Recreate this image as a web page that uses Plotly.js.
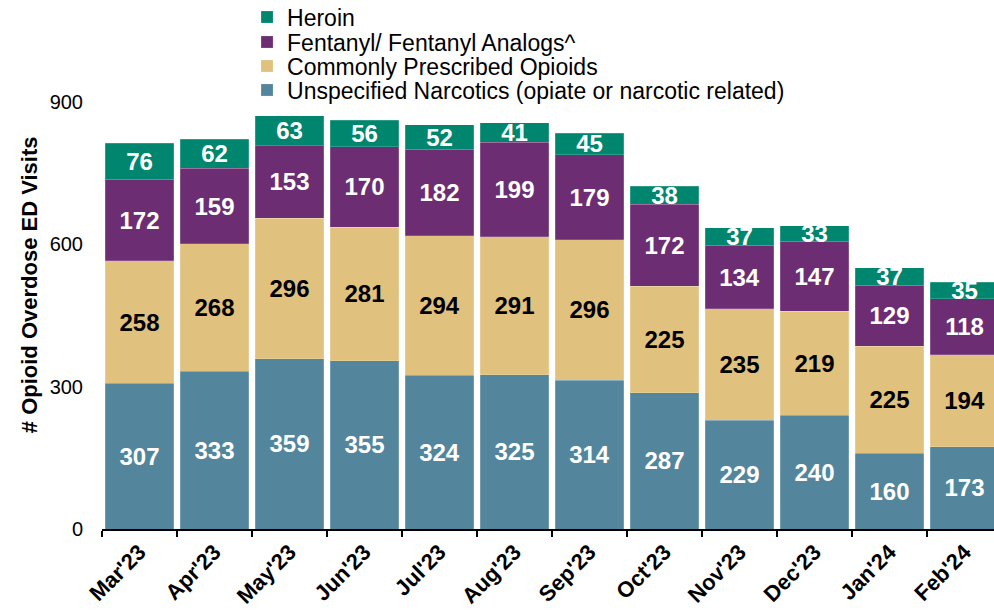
<!DOCTYPE html>
<html><head><meta charset="utf-8">
<script src="https://cdn.plot.ly/plotly-3.0.1.min.js"></script>
<style>html,body{margin:0;padding:0;background:#fff}#c{width:994px;height:610px}</style>
</head><body><div id="c"></div>
<script>
const months = ["Mar'23","Apr'23","May'23","Jun'23","Jul'23","Aug'23","Sep'23","Oct'23","Nov'23","Dec'23","Jan'24","Feb'24"];
const unspecified = [307,333,359,355,324,325,314,287,229,240,160,173];
const prescribed  = [258,268,296,281,294,291,296,225,235,219,225,194];
const fentanyl    = [172,159,153,170,182,199,179,172,134,147,129,118];
const heroin      = [76,62,63,56,52,41,45,38,37,33,37,35];
const names = ["Unspecified Narcotics (opiate or narcotic related)","Commonly Prescribed Opioids","Fentanyl/ Fentanyl Analogs^","Heroin"];
const colors = ["#53869D","#E0C17E","#6C2D73","#00866F"];
const textColors = ["#ffffff","#000000","#ffffff","#ffffff"];
const series = [unspecified, prescribed, fentanyl, heroin];
const legendIds = ['legend','legend2','legend3','legend4'];
const legendY = [1.0281, 1.0843, 1.1405, 1.199];
const FONT = 'Liberation Sans, Arial, sans-serif';

const traces = series.map((vals,i)=>({
  type:'bar', x: months, y: vals, name: names[i], legend: legendIds[i],
  marker:{color: colors[i], line:{color:'rgba(255,255,255,0.35)', width:0.5}},
  text: vals.map(String), textposition:'inside', insidetextanchor:'middle', textangle:0,
  textfont:{family:FONT, size:24, color:textColors[i], weight:'bold'},
  constraintext:'none', hoverinfo:'skip'
}));

const layout = {
  width:994, height:610,
  margin:{l:102, r:0, t:102, b:81, autoexpand:false},
  barmode:'stack', bargap:0.09,
  paper_bgcolor:'#fff', plot_bgcolor:'#fff',
  font:{family:FONT, color:'#000'},
  uniformtext:{mode:'show', minsize:24},
  showlegend:true,
  xaxis:{type:'category', range:[-0.5, 11.393], showline:true, linecolor:'#000', linewidth:1.5,
    ticks:'outside', tickson:'boundaries', ticklen:6, tickcolor:'#000', tickwidth:1.5,
    tickangle:-45, tickfont:{family:FONT, size:22, weight:'bold', color:'#000'}, showgrid:false, fixedrange:true},
  yaxis:{range:[0,900], tickvals:[0,300,600,900], showline:false, showgrid:false, zeroline:false,
    ticks:'', tickfont:{family:FONT, size:20, color:'#000'}, ticklabelstandoff:18},
  annotations:[{text:'# Opioid Overdose ED Visits', xref:'paper', yref:'paper', x:-0.0818, y:0.571,
    xanchor:'center', yanchor:'middle', textangle:-90, showarrow:false,
    font:{family:FONT, size:22, weight:'bold', color:'#000'}}]
};
legendIds.forEach((id,i)=>{
  layout[id] = {x:0.1626, xref:'paper', y:legendY[i], yref:'paper', xanchor:'left', yanchor:'middle',
    font:{family:FONT, size:23, color:'#000'}, bgcolor:'rgba(0,0,0,0)', itemwidth:30};
});
Plotly.newPlot('c', traces, layout, {displayModeBar:false, staticPlot:true});
</script></body></html>
